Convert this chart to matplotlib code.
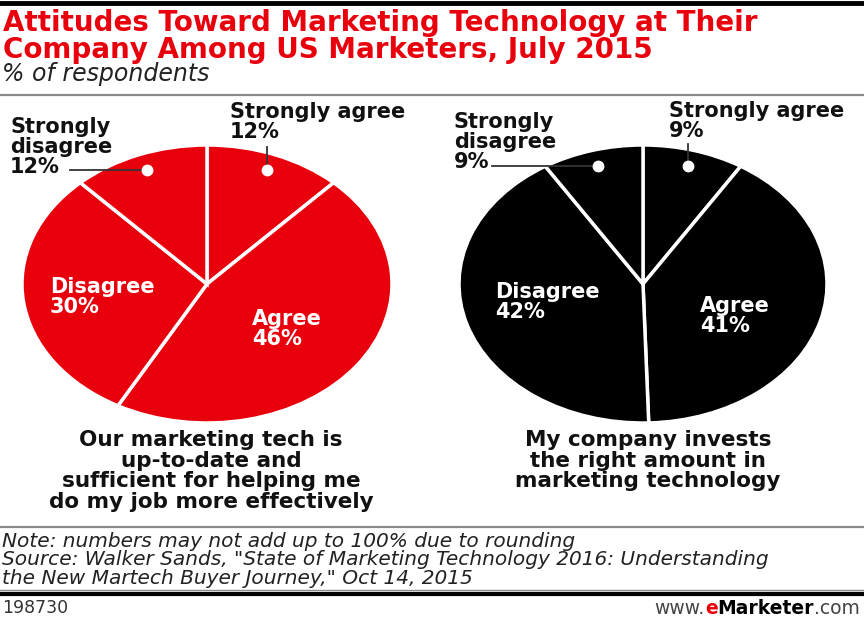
import matplotlib
matplotlib.use("Agg")
import numpy as np
import matplotlib.pyplot as plt
from matplotlib.lines import Line2D

# Data
labels = ["Strongly agree", "Agree", "Disagree", "Strongly disagree"]
uptodate = [12, 46, 30, 12]
invests = [9, 41, 42, 9]
captions = [
    "Our marketing tech is\nup-to-date and\nsufficient for helping me\ndo my job more effectively",
    "My company invests\nthe right amount in\nmarketing technology",
]

RED = "#e8000d"
W, H = 864, 619

plt.rcParams["font.family"] = ["DejaVu Sans"]
fig = plt.figure(figsize=(W / 100, H / 100), dpi=100)


def px(x, y):
    """pixel coords (top-left origin) -> figure fraction"""
    return x / W, 1 - y / H


def txt(x, y, s, **kw):
    fx, fy = px(x, y)
    return fig.text(fx, fy, s, **kw)


def hline(y, x0, x1, color, lw):
    fig.add_artist(Line2D([x0 / W, x1 / W], [1 - y / H, 1 - y / H],
                          transform=fig.transFigure, color=color, lw=lw))


# frame lines
hline(3, 0, W, "black", 3.5)
hline(95, 0, W, "#8a8a8a", 1.6)
hline(527, 0, W, "#8a8a8a", 1.6)
hline(590, 0, W, "#8a8a8a", 1.0)
hline(594, 0, W, "black", 3.0)

# title block
txt(3, 9, "Attitudes Toward Marketing Technology at Their\nCompany Among US Marketers, July 2015",
    color=RED, fontsize=20, fontweight="bold", va="top", linespacing=0.96)
txt(2, 62, "% of respondents", fontsize=17, style="italic", color="#222222", va="top")

LAB_FS = 15


def draw_pie(box, values, color, inner_pos, out_pos, leaders, caption, cap_x):
    x0, y0, x1, y1 = box
    ax = fig.add_axes([x0 / W, 1 - y1 / H, (x1 - x0) / W, (y1 - y0) / H])
    wedges, _ = ax.pie(values, startangle=90, counterclock=False, colors=[color] * len(values),
                       wedgeprops=dict(edgecolor="white", linewidth=2.5))
    ax.set_aspect("auto")
    ax.set_xlim(-1, 1)
    ax.set_ylim(-1, 1)
    ax.axis("off")

    inv = ax.transData.inverted()
    for i, (lab, v) in enumerate(zip(labels, values)):
        s = f"{lab}\n{v}%"
        if i in inner_pos:
            tx, ty = inner_pos[i]
            txt(tx, ty, s, color="white", fontsize=LAB_FS, fontweight="bold", va="top", linespacing=1.0)
        else:
            tx, ty = out_pos[i]
            s = s.replace("Strongly disagree", "Strongly\ndisagree")
            txt(tx, ty, s, color="#111111", fontsize=LAB_FS, fontweight="bold", va="top", linespacing=1.0)
            w = wedges[i]
            mid = np.deg2rad((w.theta1 + w.theta2) / 2)
            dx, dy = 0.88 * np.cos(mid), 0.88 * np.sin(mid)
            kind, val = leaders[i]
            if kind == "v":
                ex, ey = inv.transform(ax.transData.transform((dx, dy)) * [1, 0] + [0, H - val])
            else:
                ex, ey = inv.transform(ax.transData.transform((dx, dy)) * [0, 1] + [val, 0])
            ax.plot([dx, ex], [dy, ey], color="#333333", lw=1.3, clip_on=False, zorder=3)
            ax.plot(dx, dy, "o", color="white", markersize=7.5, clip_on=False, zorder=4)

    txt(cap_x, 430, caption, ha="center", va="top", fontsize=15.5, fontweight="bold",
        color="#111111", linespacing=1.04)
    return ax


draw_pie((22, 145, 392, 423), uptodate, RED,
         inner_pos={1: (252, 309), 2: (50, 277)},
         out_pos={0: (230, 102), 3: (10, 117)},
         leaders={0: ("v", 147), 3: ("h", 70)},
         caption=captions[0], cap_x=211)

draw_pie((459, 145, 827, 423), invests, "black",
         inner_pos={1: (700, 296), 2: (495, 282)},
         out_pos={0: (669, 101), 3: (454, 112)},
         leaders={0: ("v", 144), 3: ("h", 492)},
         caption=captions[1], cap_x=648)

# footer
txt(2, 532, "Note: numbers may not add up to 100% due to rounding\n"
            "Source: Walker Sands, \"State of Marketing Technology 2016: Understanding\n"
            "the New Martech Buyer Journey,\" Oct 14, 2015",
    fontsize=14.5, style="italic", color="#222222", va="top", linespacing=0.95)
txt(2, 608, "198730", fontsize=12.5, color="#333333", va="center")

fig.canvas.draw()
rend = fig.canvas.get_renderer()
parts = [("www.", dict(color="#444444")), ("e", dict(color=RED, fontweight="bold")),
         ("Marketer", dict(color="black", fontweight="bold")), (".com", dict(color="#444444"))]
xr = 860
for s, kw in reversed(parts):
    t = txt(xr, 608, s, ha="right", va="center", fontsize=13.5, **kw)
    xr -= t.get_window_extent(rend).width

fig.savefig("out.png", dpi=100, facecolor="white")
